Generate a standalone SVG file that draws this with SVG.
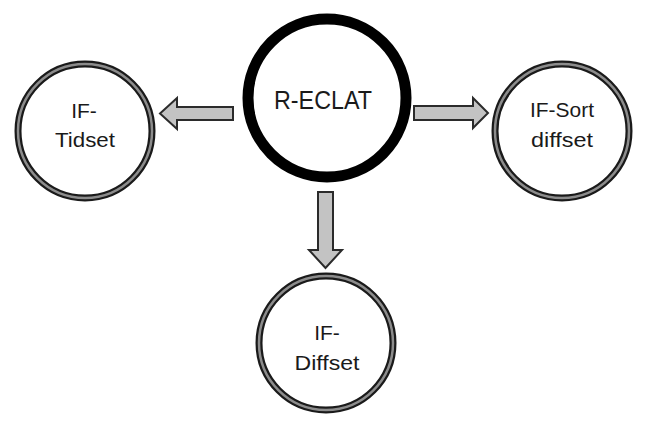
<svg xmlns="http://www.w3.org/2000/svg" width="653" height="428" viewBox="0 0 653 428">
<style>
.bg{fill:#fff}
.outer{fill:#fff;stroke:#1a1a1a;stroke-width:7}
.inner{fill:none;stroke:#8c8c8c;stroke-width:2.5}
.main{fill:#fff;stroke:#000;stroke-width:11}
.arrow{fill:#c3c3c3;stroke:#2b2b2b;stroke-width:2;stroke-linejoin:miter}
text{font-family:"Liberation Sans",Arial,sans-serif;fill:#1a1a1a;text-anchor:middle}
.t{font-size:21px}
.tm{font-size:26px}
</style>
<rect class="bg" x="0" y="0" width="653" height="428"/>
<g id="connectors">
<polygon class="arrow" points="233,107 177,107 177,98 160,113.5 177,129 177,120 233,120"/>
<polygon class="arrow" points="414,106 473,106 473,98 488,113 473,128 473,120 414,120"/>
<polygon class="arrow" points="318,192 333,192 333,250 342,250 325.5,268 309,250 318,250"/>
</g>
<g id="r-eclat">
<circle class="main" cx="327" cy="98" r="79"/>
<text class="tm" x="323" y="109" textLength="98" lengthAdjust="spacingAndGlyphs">R-ECLAT</text>
</g>
<g id="if-tidset">
<circle class="outer" cx="85" cy="131" r="67"/>
<circle class="inner" cx="85" cy="131" r="67"/>
<text class="t" x="84" y="118">IF-</text>
<text class="t" x="85" y="147" textLength="60" lengthAdjust="spacingAndGlyphs">Tidset</text>
</g>
<g id="if-sort-diffset">
<circle class="outer" cx="562" cy="131" r="67"/>
<circle class="inner" cx="562" cy="131" r="67"/>
<text class="t" x="562" y="117" textLength="64" lengthAdjust="spacingAndGlyphs">IF-Sort</text>
<text class="t" x="562" y="147" textLength="62" lengthAdjust="spacingAndGlyphs">diffset</text>
</g>
<g id="if-diffset">
<circle class="outer" cx="326" cy="343" r="67"/>
<circle class="inner" cx="326" cy="343" r="67"/>
<text class="t" x="327" y="340">IF-</text>
<text class="t" x="327" y="370" textLength="65" lengthAdjust="spacingAndGlyphs">Diffset</text>
</g>
</svg>
